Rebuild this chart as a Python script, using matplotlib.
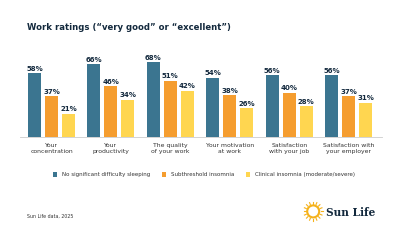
import numpy as np
import matplotlib.pyplot as plt
from matplotlib.patches import Ellipse

categories = ["Your\nconcentration", "Your\nproductivity", "The quality\nof your work",
              "Your motivation\nat work", "Satisfaction\nwith your job", "Satisfaction with\nyour employer"]
series_names = ["No significant difficulty sleeping", "Subthreshold insomnia",
                "Clinical insomnia (moderate/severe)"]
no_difficulty = [58, 66, 68, 54, 56, 56]
subthreshold = [37, 46, 51, 38, 40, 37]
clinical = [21, 34, 42, 26, 28, 31]

colors = ["#3B7590", "#F59D2F", "#FFD650"]
navy = "#13293D"

fig = plt.figure(figsize=(4, 2.43), dpi=100)
ax = fig.add_axes([0.05, 0.436, 0.905, 0.453])

x = np.arange(len(categories))
width = 0.22
step = 0.286
for i, (vals, name, c) in enumerate(zip([no_difficulty, subthreshold, clinical], series_names, colors)):
    pos = x + (i - 1) * step
    ax.bar(pos, vals, width, color=c, label=name)
    for p, v in zip(pos, vals):
        ax.text(p, v + 1.5, f"{v}%", ha="center", va="bottom", fontsize=5,
                color=navy, fontweight="bold")

ax.set_xlim(-0.53, 5.56)
ax.set_ylim(0, 100)
ax.set_yticks([])
ax.set_xticks(x)
ax.set_xticklabels(categories, fontsize=4.4, color="#333333", linespacing=1.45)
ax.tick_params(axis="x", length=0, pad=4)
for s in ["top", "right", "left"]:
    ax.spines[s].set_visible(False)
ax.spines["bottom"].set_color("#CCCCCC")
ax.spines["bottom"].set_linewidth(0.6)

fig.text(0.068, 0.885, "Work ratings (\u201cvery good\u201d or \u201cexcellent\u201d)",
         fontsize=6.1, fontweight="bold", color=navy, va="center")

leg = fig.legend(loc="center", bbox_to_anchor=(0.51, 0.28), ncol=3, frameon=False,
                 fontsize=4.0, handlelength=0.8, handleheight=0.8, columnspacing=2.0,
                 handletextpad=0.9)
for t in leg.get_texts():
    t.set_color("#333333")

fig.text(0.068, 0.11, "Sun Life data, 2025", fontsize=3.4, color="#333333", va="center")

# logo
fig.text(0.937, 0.125, "Sun Life", fontsize=7.6, family="DejaVu Serif", color=navy,
         ha="right", va="center", fontweight="bold")
sx, sy = 0.783, 0.13
fig.add_artist(Ellipse((sx, sy), 12 / 400, 12 / 243, transform=fig.transFigure,
                       facecolor="none", edgecolor="#F5B21B", lw=1.5))
for a in np.linspace(0, 2 * np.pi, 16, endpoint=False):
    r0, r1 = 7.5, 9.5
    fig.add_artist(plt.Line2D([sx + r0 * np.cos(a) / 400, sx + r1 * np.cos(a) / 400],
                              [sy + r0 * np.sin(a) / 243, sy + r1 * np.sin(a) / 243],
                              transform=fig.transFigure, color="#F5B21B", lw=0.8))

fig.savefig("out.png", dpi=100)
